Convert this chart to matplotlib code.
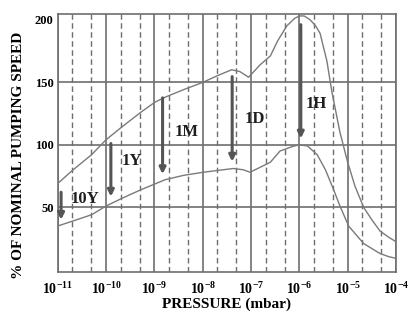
import matplotlib
matplotlib.use("Agg")
import matplotlib.pyplot as plt
import numpy as np
from matplotlib.ticker import LogLocator, FixedLocator, NullFormatter

plt.rcParams["font.family"] = "Liberation Serif"
plt.rcParams["font.weight"] = "bold"
plt.rcParams["mathtext.fontset"] = "custom"
plt.rcParams["mathtext.rm"] = "Liberation Serif:bold"
plt.rcParams["mathtext.bf"] = "Liberation Serif:bold"

GRID = "#6e6e6e"
CURVE = "#7a7a7a"
ARROW = "#555555"

# upper curve (log10 pressure, % of nominal speed)
upper_exp = [-11.0, -10.68, -10.30, -10.0, -9.68, -9.28, -8.99, -8.78, -8.40,
             -7.99, -7.71, -7.40, -7.23, -7.05, -6.81, -6.60, -6.45, -6.26,
             -6.10, -6.0, -5.90, -5.78, -5.66, -5.57, -5.43, -5.33, -5.16,
             -5.0, -4.85, -4.67, -4.50, -4.33, -4.15, -3.98]
upper_val = [69, 80, 92, 104, 114, 126, 134, 138, 144,
             150, 155, 160, 158.5, 154, 164, 171, 183, 195,
             201, 203, 203, 200, 195, 189, 167, 143, 110,
             86, 67, 50, 40, 31, 26, 22]

# lower curve
lower_exp = [-11.0, -10.65, -10.30, -10.0, -9.68, -9.28, -8.78, -8.40, -7.99,
             -7.37, -7.16, -7.02, -6.81, -6.60, -6.40, -6.15, -6.0, -5.83,
             -5.63, -5.46, -5.29, -5.16, -4.98, -4.67, -4.33, -4.15, -3.98]
lower_val = [35, 39.5, 44, 51, 57, 64, 72, 75.5, 78,
             81, 80, 78, 82, 86, 95, 98.5, 100, 99,
             92, 80, 64, 51, 35, 21, 13, 10.5, 9]

# bake-out / pumping time arrows
arrow_labels = ["10Y", "1Y", "1M", "1D", "1H"]
arrow_exp = [-10.93, -9.90, -8.83, -7.39, -5.97]
arrow_top = [62, 101, 137.5, 154.5, 196]
arrow_bottom = [40, 58.5, 76.5, 86.5, 105]
label_exp = [-10.43, -9.47, -8.33, -6.92, -5.65]
label_val = [57, 87, 110, 120.5, 132.5]

x_ticks = [1e-11, 1e-10, 1e-9, 1e-8, 1e-7, 1e-6, 1e-5, 1e-4]
x_ticklabels = [r"$10^{-11}$", r"$10^{-10}$", r"$10^{-9}$", r"$10^{-8}$",
                r"$10^{-7}$", r"$10^{-6}$", r"$10^{-5}$", r"$10^{-4}$"]
y_ticks = [50, 100, 150, 200]
y_lines = [50, 100, 150]

fig = plt.figure(figsize=(4.11, 3.2), dpi=100)
ax = fig.add_axes([0.1404, 0.151, 0.8231, 0.805])

ax.set_xscale("log")
ax.set_xlim(1e-11, 1e-4)
ax.set_ylim(-1.5, 204.5)

ax.xaxis.set_major_locator(FixedLocator(x_ticks))
ax.set_xticklabels(x_ticklabels, fontsize=10)
ax.xaxis.set_minor_locator(LogLocator(base=10, subs=[2, 5], numticks=20))
ax.xaxis.set_minor_formatter(NullFormatter())
ax.grid(which="major", axis="x", color=GRID, lw=1.2, ls="-")
ax.grid(which="minor", axis="x", color=GRID, lw=1.0, ls=(0, (4, 2.5)))
for yv in y_lines:
    ax.axhline(yv, color=GRID, lw=1.2, zorder=1)

ax.set_yticks(y_ticks)
ax.set_yticklabels([str(v) for v in y_ticks], fontsize=9)
ax.tick_params(which="both", length=0, pad=3)
ax.tick_params(axis="x", pad=6)
for s in ax.spines.values():
    s.set_color(GRID)
    s.set_linewidth(1.2)

ax.plot(10.0 ** np.array(upper_exp), upper_val, color=CURVE, lw=1.0, zorder=3)
ax.plot(10.0 ** np.array(lower_exp), lower_val, color=CURVE, lw=1.0, zorder=3)

for lab, xe, yt, yb, lx, ly in zip(arrow_labels, arrow_exp, arrow_top,
                                   arrow_bottom, label_exp, label_val):
    ax.annotate("", xy=(10.0 ** xe, yb), xytext=(10.0 ** xe, yt),
                arrowprops=dict(arrowstyle="-|>", color=ARROW, lw=2.2,
                                mutation_scale=9, shrinkA=0, shrinkB=0),
                zorder=4)
    ax.text(10.0 ** lx, ly, lab, ha="center", va="center", fontsize=12,
            fontweight="bold", color="#1e1e1e", zorder=5)

ax.set_xlabel("PRESSURE (mbar)", fontsize=11, fontweight="bold", labelpad=1)
fig.text(0.046, 0.515, "% OF NOMINAL PUMPING SPEED", rotation=90,
         ha="center", va="center", fontsize=11, fontweight="bold")

fig.savefig("out.png", dpi=100)
